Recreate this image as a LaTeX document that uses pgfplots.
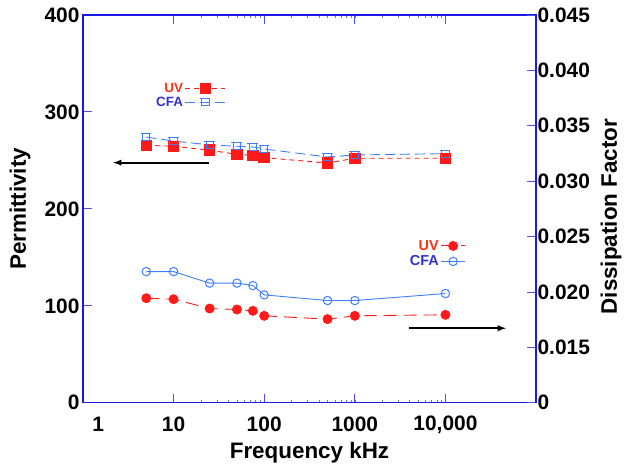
\documentclass[border=0pt]{standalone}
\usepackage{fontspec}
\setmainfont{Liberation Sans}
\usepackage{pgfplots}
\pgfplotsset{compat=1.18}
\definecolor{uvred}{HTML}{FF1A1A}
\definecolor{cfablue}{HTML}{3F7FFF}
\definecolor{cfatext}{HTML}{3333CC}
\definecolor{uvtext}{HTML}{FF3311}
\definecolor{axblue}{HTML}{1A1AE6}
\definecolor{tickblue}{HTML}{4D4DF0}

\pgfdeclareplotmark{sqbar}{%
  \pgfpathrectangle{\pgfpoint{-3.6bp}{-3.6bp}}{\pgfpoint{7.2bp}{7.2bp}}%
  \pgfpathmoveto{\pgfpoint{-5.5bp}{3.6bp}}\pgfpathlineto{\pgfpoint{5bp}{3.6bp}}%
  \pgfusepathqstroke}

\pgfplotstableread{
f     uv      cfa
5     265.6   274.0
10    264.6   270.0
25    260.5   266.0
50    256.3   264.6
75    255.3   263.9
100   252.9   261.8
500   247.3   253.5
1000  252.2   255.6
10000 252.2   257.0
}\perm

\pgfplotstableread{
f     uv       cfa
5     0.01944  0.02184
10    0.01935  0.02184
25    0.01851  0.02080
50    0.01842  0.02080
75    0.01830  0.02058
100   0.01785  0.01974
500   0.01755  0.01923
1000  0.01785  0.01923
10000 0.01794  0.01986
}\diss

\newcommand{\tickfont}{\bfseries\fontsize{21}{24}\selectfont}
\newcommand{\labfont}{\bfseries\fontsize{22.5}{26}\selectfont}
\newcommand{\legfont}{\bfseries\fontsize{13.5}{15}\selectfont}
\newcommand{\legfontb}{\bfseries\fontsize{14.5}{16}\selectfont}

\begin{document}
\begin{tikzpicture}
\pgfplotsset{
  every axis/.append style={
    scale only axis, width=453.3bp, height=388bp,
    xmode=log, xmin=1, xmax=100000,
    axis line style={axblue, line width=1.2bp},
    major tick style={tickblue, line width=0.9bp},
    major tick length=9bp,
    minor tick num=0,
    tick align=inside,
    tick label style={font=\tickfont},
    label style={font=\labfont},
    scaled y ticks=false,
    /pgf/number format/assume math mode=true,
    legend image code/.code={\draw[mark repeat=2,mark phase=2] plot coordinates {(0bp,0bp)(20bp,0bp)(40bp,0bp)};},
  },
}
\begin{axis}[
  ymin=0, ymax=400,
  ytick={0,100,200,300,400},
  ytick pos=left,
  xtick pos=both,
  xtick={10,100,1000,10000},
  xticklabels={10,100,1000,{10,000}},
  extra x ticks={1.476},
  extra x tick labels={1},
  extra x tick style={major tick length=0pt},
  xticklabel style={anchor=center, yshift=-22bp},
  xlabel={Frequency kHz},
  xlabel style={at={(axis description cs:0.5,0)}, anchor=center, yshift=-50bp},
  ylabel={Permittivity},
  ylabel style={at={(axis description cs:-0.139,0.5)}, anchor=center},
  legend style={draw=none, fill=none, font=\legfont, at={(0.15,0.835)}, anchor=north west,
    row sep=-1bp, cells={anchor=east}},
  legend plot pos=right,
]
\addplot[uvred, line width=0.9bp, dash pattern=on 5bp off 4bp, mark=square*, mark size=5.3bp, mark options={solid, fill=uvred, draw=uvred}] table[x=f, y=uv] {\perm};
\addlegendentry{\textcolor{uvtext}{UV}}
\addplot[cfablue, line width=0.9bp, dash pattern=on 10bp off 5bp, mark=sqbar, mark options={solid, draw=cfablue, line width=1bp}] table[x=f, y=cfa] {\perm};
\addlegendentry{\textcolor{cfatext}{CFA}}
\draw[-latex, line width=1.8bp, black] (axis cs:24.4,247.7) -- (axis cs:2.16,247.7);
\draw[-latex, line width=1.8bp, black] (axis cs:3980,76.9) -- (axis cs:46400,76.9);
\end{axis}
\begin{axis}[
  ymin=0.010, ymax=0.045,
  ytick={0.010,0.015,0.020,0.025,0.030,0.035,0.040,0.045},
  yticklabels={0,0.015,0.020,0.025,0.030,0.035,0.040,0.045},
  yticklabel style={xshift=-2bp},
  axis y line*=right,
  axis x line=none,
  ylabel={Dissipation Factor},
  ylabel style={at={(axis description cs:1.1655,0.48)}, anchor=center},
  legend style={draw=none, fill=none, font=\legfontb, at={(0.71,0.43)}, anchor=north west,
    row sep=0bp, cells={anchor=east}},
  legend plot pos=right,
  legend image code/.code={\draw[mark repeat=2,mark phase=2] plot coordinates {(0bp,0bp)(12bp,0bp)(24bp,0bp)};},
]
\addplot[uvred, line width=0.9bp, dash pattern=on 13bp off 7bp, mark=*, mark size=4.5bp, mark options={solid, fill=uvred, draw=uvred}] table[x=f, y=uv] {\diss};
\addlegendentry{\textcolor{uvtext}{UV}}
\addplot[cfablue, line width=0.9bp, mark=o, mark size=4.2bp, mark options={solid, draw=cfablue, line width=1bp}] table[x=f, y=cfa] {\diss};
\addlegendentry{\textcolor{cfatext}{CFA}}
\end{axis}
\path (current axis.south west) ++(-83bp,-63bp);
\path (current axis.north east) ++(89bp,15bp);
\end{tikzpicture}
\end{document}
